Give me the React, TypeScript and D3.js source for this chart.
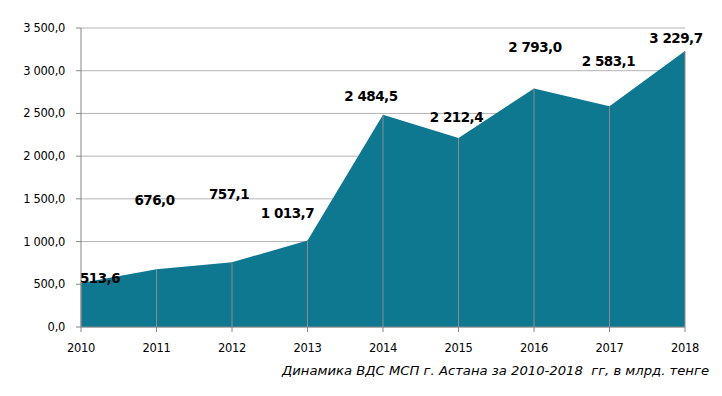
import React from "react";
import * as d3 from "d3";

const years = ["2010", "2011", "2012", "2013", "2014", "2015", "2016", "2017", "2018"];
const values = [513.6, 676.0, 757.1, 1013.7, 2484.5, 2212.4, 2793.0, 2583.1, 3229.7];
const valueLabels = ["513,6", "676,0", "757,1", "1 013,7", "2 484,5", "2 212,4", "2 793,0", "2 583,1", "3 229,7"];
const yTicks = [0, 500, 1000, 1500, 2000, 2500, 3000, 3500];
const yTickLabels = ["0,0", "500,0", "1 000,0", "1 500,0", "2 000,0", "2 500,0", "3 000,0", "3 500,0"];
const caption = "Динамика ВДС МСП г. Астана за 2010-2018  гг, в млрд. тенге";
// label offsets relative to point (style)
const labelDx = [19, -2, -3, -20, -12, -2, 1, -1, -9];
const labelDy = [-5, -69, -68, -27, -18, -21, -41, -45, -13];

export default function App() {
  const W = 722, H = 396;
  const x = d3.scalePoint<string>().domain(years).range([81, 685]);
  const y = d3.scaleLinear().domain([0, 3500]).range([327, 28]);
  const area = d3
    .area<number>()
    .x((_, i) => x(years[i]) as number)
    .y0(y(0))
    .y1((d) => y(d));
  const font = "'DejaVu Sans', Verdana, sans-serif";
  return (
    <svg width={W} height={H} style={{ position: "absolute", left: 0, top: 0, background: "#fff" }}>
      {yTicks.map((t) => (
        <line key={"g" + t} x1={81} x2={685} y1={y(t)} y2={y(t)} stroke="#b3b3b3" strokeWidth={1} />
      ))}
      <path d={area(values) || ""} fill="#0e7891" />
      {years.map((yr, i) => (
        <line key={"v" + yr} x1={x(yr)} x2={x(yr)} y1={y(values[i])} y2={y(0)} stroke="#8c8c8c" strokeWidth={1} />
      ))}
      <line x1={81} x2={81} y1={y(3500)} y2={y(0)} stroke="#868686" />
      <line x1={81} x2={685} y1={y(0)} y2={y(0)} stroke="#868686" />
      {yTicks.map((t, i) => (
        <g key={"yt" + t}>
          <line x1={76} x2={81} y1={y(t)} y2={y(t)} stroke="#868686" />
          <text x={65} y={y(t)} dy="0.35em" textAnchor="end" fontFamily={font} fontSize={11.5} letterSpacing={-0.3} fill="#000">
            {yTickLabels[i]}
          </text>
        </g>
      ))}
      {years.map((yr) => (
        <g key={"xt" + yr}>
          <line x1={x(yr)} x2={x(yr)} y1={y(0)} y2={y(0) + 5} stroke="#868686" />
          <text x={x(yr)} y={352} textAnchor="middle" fontFamily={font} fontSize={11.5} letterSpacing={-0.3} fill="#000">
            {yr}
          </text>
        </g>
      ))}
      {years.map((yr, i) => (
        <text
          key={"l" + yr}
          x={(x(yr) as number) + labelDx[i]}
          y={y(values[i]) + labelDy[i]}
          dy="0.35em"
          textAnchor="middle"
          fontFamily={font}
          fontWeight="bold"
          fontSize={13.5}
          letterSpacing={-0.5}
          fill="#000"
        >
          {valueLabels[i]}
        </text>
      ))}
      <text
        x={282}
        y={375}
        textLength={427}
        lengthAdjust="spacingAndGlyphs"
        fontFamily={font}
        fontStyle="italic"
        fontSize={13}
        fill="#000"
        style={{ whiteSpace: "pre" }}
      >
        {caption}
      </text>
    </svg>
  );
}
